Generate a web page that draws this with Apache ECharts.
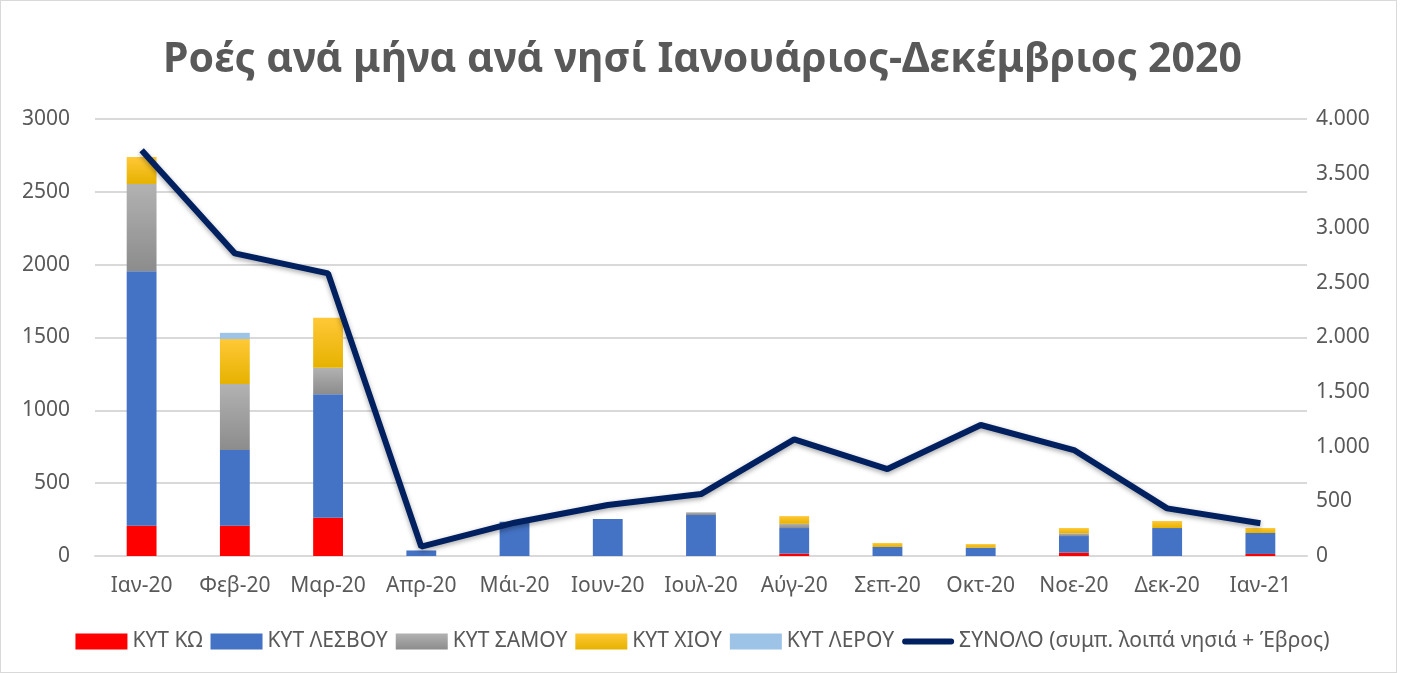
<!doctype html>
<html lang="el">
<head>
<meta charset="UTF-8">
<title>Ροές ανά μήνα ανά νησί</title>
<style>
    html, body { margin: 0; padding: 0; background: #fff; }
    #frame { position: absolute; left: 0; top: 0; width: 1395px; height: 671px; border: 1px solid #d9d9d9; }
    #main { width: 1405px; height: 673px; }
</style>
</head>
<body>
<div id="frame"></div>
<div id="main"></div>
<script src="https://cdn.jsdelivr.net/npm/echarts@6/dist/echarts.min.js"></script>
<script>
    var months = ['Ιαν-20', 'Φεβ-20', 'Μαρ-20', 'Απρ-20', 'Μάι-20', 'Ιουν-20', 'Ιουλ-20', 'Αύγ-20', 'Σεπ-20', 'Οκτ-20', 'Νοε-20', 'Δεκ-20', 'Ιαν-21'];
    var kos    = [208, 208, 263, 0, 0, 0, 0, 16, 0, 0, 23, 0, 14];
    var lesvos = [1747, 519, 848, 38, 235, 254, 281, 176, 62, 57, 114, 192, 144];
    var samos  = [599, 453, 181, 0, 0, 0, 19, 29, 0, 0, 19, 0, 0];
    var chios  = [185, 309, 343, 0, 0, 0, 0, 53, 27, 25, 36, 48, 34];
    var leros  = [0, 43, 0, 0, 0, 0, 0, 0, 0, 0, 0, 0, 0];
    var total  = [3715, 2770, 2587, 85, 305, 467, 567, 1068, 796, 1199, 970, 436, 299];
    var rightTicks = ['0', '500', '1.000', '1.500', '2.000', '2.500', '3.000', '3.500', '4.000'];

    var font = 'Noto Sans';
    var txt = '#595959';
    var lineIcon = 'path://M3,0 L49,0 A3,3 0 0 1 49,6 L3,6 A3,3 0 0 1 3,0 Z';

    function grad(top, bottom) {
        return new echarts.graphic.LinearGradient(0, 0, 0, 1, [
            {offset: 0, color: top}, {offset: 1, color: bottom}
        ]);
    }

    function barSeries(name, data, color) {
        return {
            name: name,
            type: 'bar',
            stack: 'kyt',
            data: data,
            barWidth: '32%',
            itemStyle: {color: color},
            emphasis: {disabled: true}
        };
    }

    var myChart = echarts.init(document.getElementById('main'));
    var option = {
        animation: false,
        textStyle: {fontFamily: font},
        title: {
            text: 'Ροές ανά μήνα ανά νησί Ιανουάριος-Δεκέμβριος 2020',
            left: 'center',
            top: 35,
            textStyle: {fontSize: 41, fontWeight: 'bold', color: txt, fontFamily: font}
        },
        legend: {
            bottom: 16,
            left: 'center',
            itemGap: 8,
            itemWidth: 52,
            itemHeight: 16,
            textStyle: {fontSize: 21, color: txt},
            data: [
                {name: 'ΚΥΤ ΚΩ', icon: 'rect'},
                {name: 'ΚΥΤ ΛΕΣΒΟΥ', icon: 'rect'},
                {name: 'ΚΥΤ ΣΑΜΟΥ', icon: 'rect'},
                {name: 'ΚΥΤ ΧΙΟΥ', icon: 'rect'},
                {name: 'ΚΥΤ ΛΕΡΟΥ', icon: 'rect'},
                {name: 'ΣΥΝΟΛΟ (συμπ. λοιπά νησιά + Έβρος)', icon: lineIcon}
            ]
        },
        grid: {left: 95, right: 98, top: 119, bottom: 117},
        xAxis: {
            type: 'category',
            data: months,
            axisTick: {show: false},
            axisLine: {lineStyle: {color: '#d9d9d9', width: 2}},
            axisLabel: {fontSize: 21, color: txt, margin: 20, interval: 0}
        },
        yAxis: [{
            type: 'value',
            min: 0, max: 3000, interval: 500,
            axisLabel: {fontSize: 21, color: txt, margin: 25, formatter: function (v) { return String(v); }},
            splitLine: {lineStyle: {color: '#d9d9d9', width: 2}}
        }, {
            type: 'value',
            min: 0, max: 4000, interval: 500,
            axisLabel: {
                fontSize: 21, color: txt, margin: 9,
                formatter: function (v) { return rightTicks[v / 500]; }
            },
            splitLine: {show: false}
        }],
        series: [
            barSeries('ΚΥΤ ΚΩ', kos, '#ff0000'),
            barSeries('ΚΥΤ ΛΕΣΒΟΥ', lesvos, '#4472c4'),
            barSeries('ΚΥΤ ΣΑΜΟΥ', samos, grad('#b2b2b2', '#8c8c8c')),
            barSeries('ΚΥΤ ΧΙΟΥ', chios, grad('#ffc837', '#e6b200')),
            barSeries('ΚΥΤ ΛΕΡΟΥ', leros, '#9dc3e6'),
            {
                name: 'ΣΥΝΟΛΟ (συμπ. λοιπά νησιά + Έβρος)',
                type: 'line',
                yAxisIndex: 1,
                data: total,
                symbol: 'none',
                lineStyle: {color: '#002060', width: 6, shadowColor: 'rgba(0,0,0,0.35)', shadowBlur: 5, shadowOffsetY: 2},
                itemStyle: {color: '#002060'},
                emphasis: {disabled: true}
            }
        ]
    };
    myChart.setOption(option);
</script>
</body>
</html>
